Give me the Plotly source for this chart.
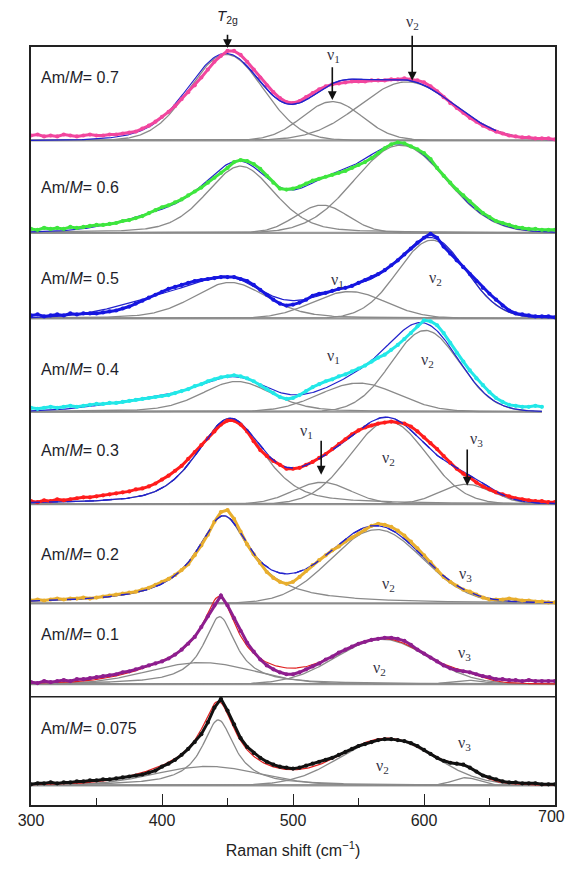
import numpy as np
import plotly.graph_objects as go

# ---------------- data (intensities, arbitrary units) -------------
ratios = ["0.7", "0.6", "0.5", "0.4", "0.3", "0.2", "0.1", "0.075"]
shift = list(range(300, 701, 5))          # Raman shift grid (cm-1)
shift_04 = list(range(300, 691, 5))       # the x=0.4 spectrum stops near 690
tick_vals = [300, 400, 500, 600, 700]
tick_text = ["300", "400", "500", "600", "700"]

I_07 = [5, 6, 4, 5, 4, 6, 5, 4, 5, 6,
        5, 5, 6, 6, 7, 8, 9, 12, 15, 19,
        24, 29, 35, 42, 49, 56, 64, 72, 80, 86,
        91, 91, 87, 80, 72, 64, 56, 49, 43, 39,
        38, 40, 44, 48, 52, 55, 57, 58, 59, 60,
        60, 60, 61, 61, 61, 62, 62, 63, 62, 61,
        59, 55, 50, 44, 38, 33, 28, 23, 19, 15,
        12, 9, 7, 5, 4, 3, 3, 2, 2, 2,
        1]
I_06 = [4, 3, 5, 4, 5, 4, 6, 5, 6, 7,
        8, 8, 9, 10, 12, 13, 15, 17, 20, 23,
        26, 28, 31, 34, 38, 42, 46, 51, 56, 61,
        66, 72, 74, 73, 70, 65, 58, 51, 45, 44,
        45, 47, 50, 53, 55, 57, 59, 61, 63, 66,
        69, 72, 76, 81, 86, 90, 92, 91, 88, 85,
        81, 75, 66, 58, 51, 44, 38, 32, 25, 20,
        16, 12, 10, 8, 6, 5, 4, 4, 3, 3,
        3]
I_05 = [3, 4, 2, 3, 4, 3, 5, 4, 5, 5,
        5, 6, 7, 8, 10, 12, 15, 18, 21, 24,
        27, 30, 32, 34, 36, 38, 39, 40, 41, 42,
        42, 42, 40, 38, 34, 29, 24, 19, 15, 13,
        14, 16, 19, 23, 25, 26, 28, 30, 31, 33,
        36, 39, 42, 45, 49, 54, 59, 65, 71, 77,
        82, 86, 82, 73, 66, 59, 52, 45, 38, 31,
        25, 19, 13, 8, 5, 4, 3, 2, 2, 2,
        1]
I_04 = [4, 3, 4, 5, 4, 5, 6, 5, 6, 7,
        8, 8, 9, 9, 10, 11, 12, 13, 14, 15,
        16, 17, 19, 21, 23, 26, 28, 31, 33, 35,
        36, 37, 36, 34, 31, 27, 23, 19, 15, 13,
        14, 17, 21, 25, 28, 31, 33, 36, 38, 41,
        44, 47, 51, 55, 58, 63, 68, 74, 80, 87,
        93, 92, 88, 80, 70, 60, 51, 42, 34, 27,
        20, 14, 10, 7, 6, 5, 5, 6, 5]
I_03 = [3, 2, 4, 3, 5, 4, 5, 6, 7, 7,
        8, 9, 10, 11, 12, 13, 15, 16, 18, 21,
        25, 29, 34, 39, 46, 53, 60, 67, 74, 81,
        85, 85, 81, 74, 64, 55, 49, 44, 40, 36,
        36, 37, 40, 43, 47, 51, 56, 61, 66, 71,
        75, 78, 80, 82, 83, 84, 83, 82, 79, 74,
        68, 62, 56, 49, 42, 36, 31, 27, 22, 18,
        15, 12, 10, 8, 6, 5, 4, 3, 3, 2,
        2]
I_02 = [3, 4, 3, 4, 5, 4, 5, 5, 6, 5,
        6, 7, 8, 9, 10, 11, 12, 14, 16, 19,
        22, 25, 29, 34, 40, 49, 59, 70, 83, 93,
        95, 86, 73, 60, 50, 41, 32, 26, 22, 20,
        22, 27, 33, 39, 44, 49, 54, 58, 63, 67,
        71, 75, 79, 81, 80, 78, 74, 69, 63, 56,
        49, 42, 34, 27, 22, 18, 14, 12, 9, 6,
        4, 4, 4, 5, 4, 3, 3, 2, 2, 1,
        1]
I_01 = [2, 1, 3, 2, 3, 4, 3, 5, 5, 6,
        7, 8, 9, 10, 12, 13, 15, 17, 19, 21,
        23, 26, 30, 35, 41, 48, 58, 69, 80, 90,
        80, 67, 54, 42, 33, 25, 19, 15, 12, 10,
        10, 12, 15, 18, 21, 25, 28, 32, 35, 38,
        41, 43, 45, 46, 47, 47, 46, 44, 40, 35,
        31, 27, 23, 19, 16, 14, 13, 12, 10, 8,
        7, 5, 5, 4, 4, 3, 4, 3, 3, 3,
        3]
I_0075 = [1, 2, 2, 3, 2, 3, 3, 4, 4, 5,
          5, 6, 6, 7, 8, 9, 10, 11, 13, 15,
          19, 22, 26, 31, 37, 44, 52, 64, 79, 88,
          76, 62, 48, 39, 33, 28, 24, 21, 19, 18,
          17, 18, 20, 22, 24, 26, 28, 31, 34, 37,
          40, 42, 44, 46, 47, 47, 46, 45, 43, 40,
          36, 32, 28, 25, 23, 22, 21, 18, 14, 10,
          8, 6, 4, 3, 3, 2, 2, 2, 1, 1,
          1]
spectra = [I_07, I_06, I_05, I_04, I_03, I_02, I_01, I_0075]
spectra_x = [shift, shift, shift, shift_04, shift, shift, shift, shift]

# fitted bands: centre (cm-1), width (sigma, cm-1), Lorentzian fraction, drawn?;
# band heights come from a least-squares fit to the spectrum above
centres = [[449, 530, 587, 395], [460, 522, 582, 405], [452, 543, 606, 400], [457, 550, 601, 400],
           [452, 522, 573, 632], [447, 564, 630], [444, 430, 568, 633], [443, 435, 572, 632]]
widths = [[28, 23, 36, 30], [26, 20, 35, 35], [28, 28, 26, 35], [27, 30, 26, 40],
          [25.5, 22, 29, 20], [21.5, 35, 14], [12.7, 40, 35, 12], [12.7, 40, 36, 10]]
lfrac = [[0, 0, 0, 0], [0.3, 0, 0, 0], [0.3, 0, 0, 0], [0.3, 0, 0, 0],
         [0.5, 0, 0, 0], [1, 0, 0], [1, 0, 0, 0], [1, 0, 0, 0]]
drawn = [[1, 1, 1, 0], [1, 1, 1, 0], [1, 1, 1, 0], [1, 1, 1, 0],
         [1, 1, 1, 1], [1, 1, 1], [1, 1, 1, 1], [1, 1, 1, 1]]
x_end = [700, 700, 700, 690, 700, 700, 700, 700]

# ---------------- styles / layout --------------------------------------------------
colors = ["#f2469e", "#3ee63e", "#1616e0", "#22e8e8", "#ff1c1c", "#e8ae2e", "#8e1e8e", "#111111"]
fit_colors = ["#2222cc"] * 6 + ["#e02020", "#e02020"]
fit_top_range = [(462, 655), None, None, None, (300, 700), (300, 700), None, None]
fit_dash = ["solid", "solid", "solid", "solid", "dash", "dash", "solid", "solid"]
PX0 = 818                    # screen row of y = 0 (plot bottom); plot top at row 47
YR = 771
offsets = [676, 582, 495, 400, 306, 205, 123, 20]
label_px = [78, 190, 282, 375, 457, 563, 645, 740]


def band(x, c, w, eta):
    g = w * np.sqrt(2 * np.log(2))
    return eta / (1 + ((x - c) / g) ** 2) + (1 - eta) * np.exp(-(x - c) ** 2 / (2 * w ** 2))


def fit_heights(xs, ys, cs, ws, es):
    xs = np.asarray(xs, float)
    ys = np.asarray(ys, float)
    A = np.stack([band(xs, c, w, e) for c, w, e in zip(cs, ws, es)], axis=1)
    active = np.ones(A.shape[1], bool)
    h = np.zeros(A.shape[1])
    for _ in range(6):
        sol, *_ = np.linalg.lstsq(A[:, active], ys, rcond=None)
        h[:] = 0
        h[active] = sol
        if (h >= 0).all():
            break
        active &= h > 0
    return np.clip(h, 0, None)


fig = go.Figure()
GRAY = "#8a8a8a"

for i in range(len(ratios)):
    off = offsets[i]
    xf = np.arange(300, x_end[i] + 0.5, 1.0)
    hts = fit_heights(spectra_x[i], spectra[i], centres[i], widths[i], lfrac[i])
    fig.add_trace(go.Scatter(x=[300, x_end[i]], y=[off, off], mode="lines",
                             line=dict(color="#9a9a9a", width=2.2), hoverinfo="skip", showlegend=False))
    total = np.zeros_like(xf)
    for c, w, e, h, d in zip(centres[i], widths[i], lfrac[i], hts, drawn[i]):
        comp = h * band(xf, c, w, e)
        total += comp
        if d:
            fig.add_trace(go.Scatter(x=xf, y=comp + off, mode="lines",
                                     line=dict(color=GRAY, width=1.3), hoverinfo="skip", showlegend=False))
    fig.add_trace(go.Scatter(x=xf, y=total + off, mode="lines",
                             line=dict(color=fit_colors[i], width=1.2),
                             hoverinfo="skip", showlegend=False))
    yv = np.array(spectra[i], dtype=float) + off
    fig.add_trace(go.Scatter(x=spectra_x[i], y=yv, mode="lines+markers",
                             line=dict(color=colors[i], width=3.0),
                             marker=dict(color=colors[i], size=4.2),
                             hoverinfo="skip", showlegend=False))
    if fit_top_range[i] is not None:
        lo, hi = fit_top_range[i]
        m = (xf >= lo) & (xf <= hi)
        fig.add_trace(go.Scatter(x=xf[m], y=total[m] + off, mode="lines",
                                 line=dict(color=fit_colors[i], width=1.4, dash=fit_dash[i]),
                                 hoverinfo="skip", showlegend=False))


def py(px):
    return (PX0 - px) / YR


# ---------------- texts ----------------------------------------------------------
ann = []
TXT = "#1e1e2a"
for i, r in enumerate(ratios):
    ann.append(dict(x=306, y=py(label_px[i]), xref="x", yref="paper", xanchor="left", yanchor="middle",
                    text="Am/<i>M</i>= " + r, showarrow=False,
                    font=dict(family="Liberation Sans, Arial", size=16, color=TXT)))

nu_text = ["ν<sub>1</sub>", "ν<sub>2</sub>", "ν<sub>1</sub>", "ν<sub>2</sub>", "ν<sub>1</sub>", "ν<sub>2</sub>",
           "ν<sub>1</sub>", "ν<sub>2</sub>", "ν<sub>3</sub>", "ν<sub>2</sub>", "ν<sub>3</sub>",
           "ν<sub>2</sub>", "ν<sub>3</sub>", "ν<sub>2</sub>", "ν<sub>3</sub>"]
nu_x = [531, 591, 534, 609, 531, 603, 510, 573, 640, 573, 632, 566, 631, 568, 631]
nu_px = [56, 22, 284, 282, 362, 366, 438, 466, 446, 594, 584, 679, 664, 779, 755]
for t, xx, pp in zip(nu_text, nu_x, nu_px):
    ann.append(dict(x=xx, y=py(pp), xref="x", yref="paper", xanchor="center", yanchor="middle",
                    text=t, showarrow=False,
                    font=dict(family="Liberation Serif, Times New Roman", size=16, color="#333344")))

ann.append(dict(x=450, y=py(16), xref="x", yref="paper", xanchor="center", yanchor="middle",
                text="<i>T</i><sub>2g</sub>", showarrow=False,
                font=dict(family="Liberation Sans, Arial", size=15, color=TXT)))

# the last tick label sits at the page edge: drawn as a text nudged inside the page
ann.append(dict(x=tick_vals[-1], y=0, xref="x", yref="paper", xanchor="center", yanchor="top",
                xshift=-4, yshift=-1, text=tick_text[-1], showarrow=False,
                font=dict(family="Liberation Sans, Arial", size=16, color="#222")))

# arrows: (x, from screen row, to screen row)
arrows = [(450, 33, 48), (530, 66, 101), (591, 34, 81), (521.5, 446, 482), (633, 455, 493)]
for xx, p0, p1 in arrows:
    ann.append(dict(x=xx, y=PX0 - p1, ax=xx, ay=PX0 - p0, xref="x", yref="y", axref="x", ayref="y",
                    text="", showarrow=True, arrowhead=2, arrowsize=1.1, arrowwidth=1.6,
                    arrowcolor="#111111"))

shapes = [dict(type="line", xref="x", yref="y", x0=300, x1=700, y0=PX0 - 708, y1=PX0 - 708,
               line=dict(color="#222222", width=1.5))]

# page body has an 8 px margin: figure sits at (8, 8)
fig.update_layout(
    width=559, height=859,
    margin=dict(l=22, r=10, t=39, b=49),
    paper_bgcolor="white", plot_bgcolor="white",
    annotations=ann, shapes=shapes,
    font=dict(family="Liberation Sans, Arial", size=16, color="#222"),
)
fig.update_xaxes(range=[300, 700], tickvals=tick_vals, ticktext=tick_text[:-1] + [""],
                 ticks="inside", ticklen=11, tickwidth=1.4,
                 tickcolor="#222", showline=True, linecolor="#222", linewidth=1.5, mirror=True,
                 showgrid=False, zeroline=False,
                 minor=dict(dtick=50, ticks="inside", ticklen=7, tickwidth=1.2, tickcolor="#222"),
                 tickfont=dict(size=16, color="#222"),
                 title=dict(text="Raman shift (cm<sup>−1</sup>)", font=dict(size=16, color="#222"), standoff=17))
fig.update_yaxes(range=[0, YR], showticklabels=False, ticks="", showgrid=False, zeroline=False,
                 showline=True, linecolor="#222", linewidth=1.5, mirror=True)

fig.write_html("out.html")
